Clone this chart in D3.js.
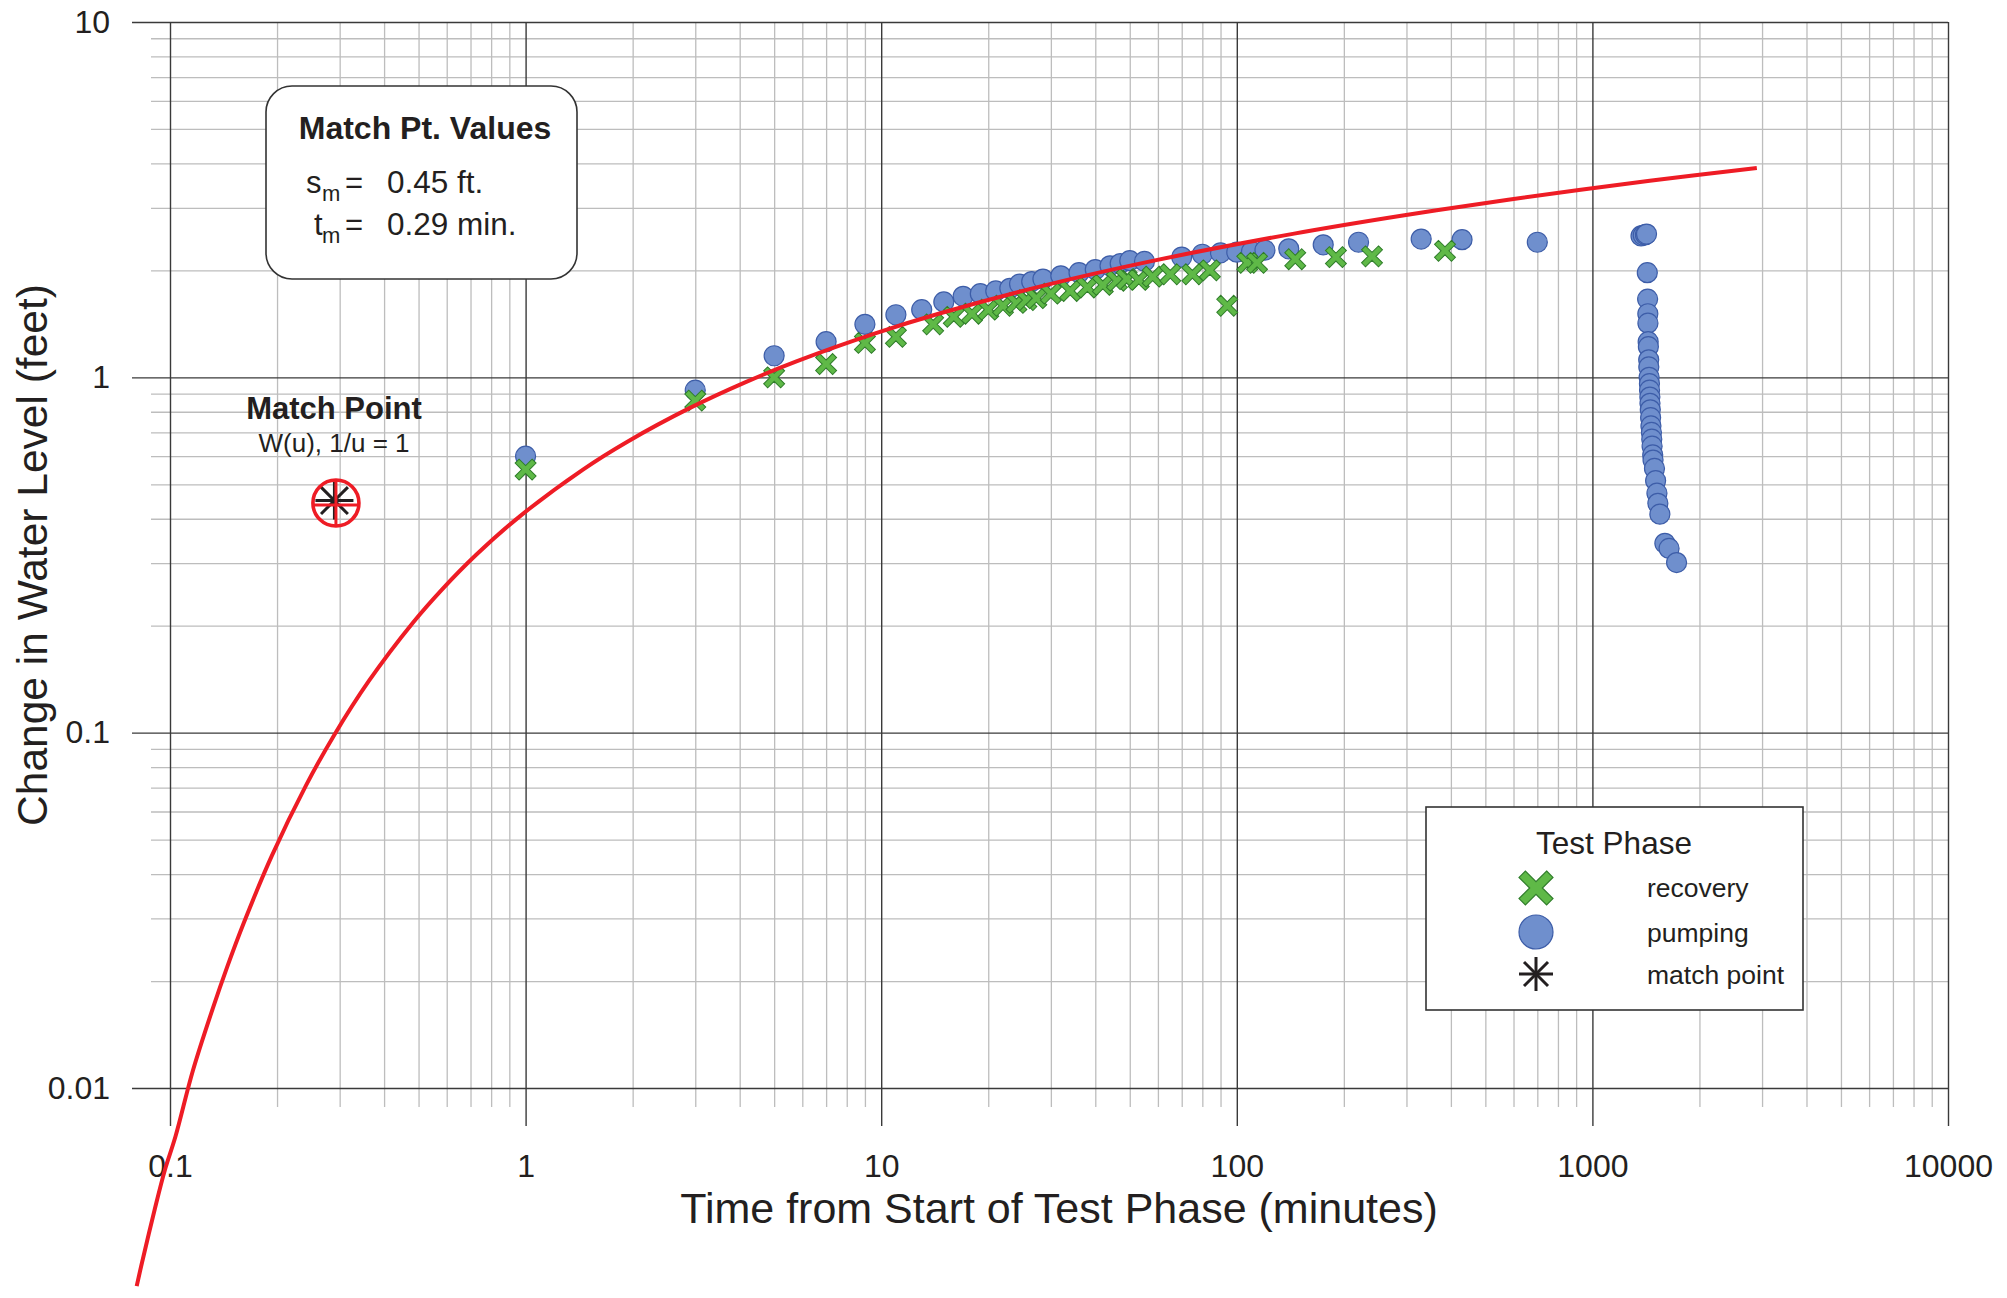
<!DOCTYPE html>
<html>
<head>
<meta charset="utf-8">
<script src="https://d3js.org/d3.v7.min.js"></script>
<style>
  html, body { margin: 0; padding: 0; background: #fff; }
  svg { display: block; font-family: "Liberation Sans", Arial, Helvetica, sans-serif; }
</style>
</head>
<body>
<svg id="chart" width="2007" height="1298"></svg>
<script>
// ---------------- DATA ----------------
const xTickValues = [0.1, 1, 10, 100, 1000, 10000];
const xTickLabels = ["0.1", "1", "10", "100", "1000", "10000"];
const yTickValues = [0.01, 0.1, 1, 10];
const yTickLabels = ["0.01", "0.1", "1", "10"];

// pumping phase (blue circles)
const pumpingTime = [1, 3, 5, 7, 9, 11, 13, 15, 17, 19, 21, 23, 24.5, 26.5, 28.5, 32, 36, 40, 44, 47, 50, 55,
  70, 80, 90, 100, 110, 120, 140, 175, 220, 330, 430, 700,
  1370, 1390, 1410, 1420,
  1427, 1430, 1432, 1433, 1435, 1437, 1440, 1441, 1444, 1447, 1448, 1451, 1452, 1455, 1458, 1461, 1466,
  1469, 1472, 1478, 1481, 1495, 1506, 1519, 1528, 1548, 1599, 1643, 1725];
const pumpingDrawdown = [0.60, 0.92, 1.15, 1.26, 1.41, 1.50, 1.55, 1.63, 1.69, 1.72, 1.75, 1.78, 1.83, 1.86, 1.89, 1.93, 1.97, 2.01, 2.06, 2.09, 2.13, 2.12,
  2.18, 2.22, 2.24, 2.25, 2.26, 2.28, 2.30, 2.36, 2.40, 2.45, 2.44, 2.40,
  2.50, 2.51, 2.52, 2.53,
  1.97, 1.66, 1.51, 1.42, 1.26, 1.22, 1.12, 1.07, 1.00, 0.96, 0.92, 0.88, 0.845, 0.81, 0.77, 0.73, 0.70,
  0.67, 0.64, 0.605, 0.585, 0.554, 0.512, 0.472, 0.442, 0.412, 0.341, 0.330, 0.301];

// recovery phase (green crosses)
const recoveryTime = [1, 3, 5, 7, 9, 11, 14, 16, 18, 20, 22, 24, 25.6, 27.3, 30, 34, 38, 42, 46, 49, 53, 58,
  65, 75, 84, 94, 107, 114, 146, 190, 240, 385];
const recoveryDrawdown = [0.55, 0.86, 1.00, 1.09, 1.25, 1.30, 1.41, 1.48, 1.51, 1.55, 1.59, 1.62, 1.65, 1.67, 1.72, 1.75, 1.79, 1.82, 1.87, 1.89, 1.88, 1.92,
  1.95, 1.95, 2.00, 1.59, 2.10, 2.10, 2.15, 2.18, 2.19, 2.27];

// type curve (red)
const curveTime = [0.0806, 0.0829, 0.0906, 0.0967, 0.1036, 0.116, 0.1318, 0.145, 0.1611, 0.1933, 0.2417, 0.29,
  0.3625, 0.4833, 0.58, 0.725, 0.967, 1.45, 1.933, 2.9, 4.143, 5.8, 9.667, 14.5, 29, 58, 145, 290, 580, 1450, 2900];
const curveDrawdown = [0.00277, 0.00314, 0.00456, 0.00587, 0.0073, 0.0112, 0.0167, 0.0220, 0.0291, 0.0450, 0.0713, 0.0987,
  0.1398, 0.2045, 0.2519, 0.3161, 0.4076, 0.5502, 0.659, 0.8203, 0.968, 1.1106, 1.3316, 1.5096, 1.8171, 2.1267, 2.5377, 2.8492, 3.1609, 3.5731, 3.8849];

const matchPoint = { t: 0.29, s: 0.45 };
const legendLabels = ["recovery", "pumping", "match point"];

// ---------------- SETUP ----------------
const svg = d3.select("#chart");
const pL = 170, pR = 1948, pT = 22, pB = 1088;
const x = d3.scaleLog().domain([0.1, 10000]).range([pL, pR]);
const y = d3.scaleLog().domain([0.01, 10]).range([pB, pT]);

const minorX = [];
[0.1, 1, 10, 100, 1000].forEach(d => { for (let k = 2; k <= 9; k++) minorX.push(+(d * k).toPrecision(3)); });
const minorY = [];
[0.01, 0.1, 1].forEach(d => { for (let k = 2; k <= 9; k++) minorY.push(+(d * k).toPrecision(3)); });

const textColor = "#231f20";

function styleGrid(g, color, width) {
  g.select(".domain").remove();
  g.selectAll(".tick line").attr("stroke", color).attr("stroke-width", width);
  g.selectAll(".tick text").remove();
}

// minor grid
svg.append("g").attr("transform", `translate(0,${pB + 19})`)
  .call(d3.axisBottom(x).tickValues(minorX).tickSize(-(pB + 19 - pT)).tickFormat(""))
  .call(g => styleGrid(g, "#bdbdbd", 1.3));
svg.append("g").attr("transform", `translate(${pL - 19},0)`)
  .call(d3.axisLeft(y).tickValues(minorY).tickSize(-(pR - pL + 19)).tickFormat(""))
  .call(g => styleGrid(g, "#bdbdbd", 1.3));

// major grid
svg.append("g").attr("transform", `translate(0,${pB + 38})`)
  .call(d3.axisBottom(x).tickValues(xTickValues).tickSize(-(pB + 38 - pT)).tickFormat(""))
  .call(g => styleGrid(g, "#3a3a3a", 1.4));
svg.append("g").attr("transform", `translate(${pL - 38},0)`)
  .call(d3.axisLeft(y).tickValues(yTickValues).tickSize(-(pR - pL + 38)).tickFormat(""))
  .call(g => styleGrid(g, "#3a3a3a", 1.4));

// tick labels
const xLab = svg.append("g").attr("transform", `translate(0,${pB})`)
  .call(d3.axisBottom(x).tickValues(xTickValues).tickSize(0).tickPadding(66)
    .tickFormat((d, i) => xTickLabels[i]));
xLab.select(".domain").remove();
xLab.selectAll("text").attr("font-size", 32).attr("fill", textColor);
xLab.attr("font-family", null).attr("font-size", null);

const yLab = svg.append("g").attr("transform", `translate(${pL},0)`)
  .call(d3.axisLeft(y).tickValues(yTickValues).tickSize(0).tickPadding(60)
    .tickFormat((d, i) => yTickLabels[i]));
yLab.select(".domain").remove();
yLab.selectAll("text").attr("font-size", 32).attr("fill", textColor);
yLab.attr("font-family", null).attr("font-size", null);

// axis titles
svg.append("text").attr("x", (pL + pR) / 2).attr("y", 1223)
  .attr("text-anchor", "middle").attr("font-size", 43).attr("fill", textColor)
  .text("Time from Start of Test Phase (minutes)");
svg.append("text").attr("transform", `translate(47,${(pT + pB) / 2}) rotate(-90)`)
  .attr("text-anchor", "middle").attr("font-size", 42.5).attr("fill", textColor)
  .text("Change in Water Level (feet)");

// Match Pt. Values box
svg.append("rect").attr("x", 266).attr("y", 86).attr("width", 311).attr("height", 193)
  .attr("rx", 26).attr("ry", 26).attr("fill", "#fff").attr("stroke", "#333").attr("stroke-width", 1.6);
svg.append("text").attr("x", 425).attr("y", 139).attr("text-anchor", "middle")
  .attr("font-size", 32).attr("font-weight", "bold").attr("fill", textColor).text("Match Pt. Values");
const mv = svg.append("g").attr("fill", textColor);
mv.append("text").attr("x", 306).attr("y", 193).attr("font-size", 31).text("s");
mv.append("text").attr("x", 322).attr("y", 201).attr("font-size", 22).text("m");
mv.append("text").attr("x", 345).attr("y", 193).attr("font-size", 31).text("=");
mv.append("text").attr("x", 387).attr("y", 193).attr("font-size", 31.5).text("0.45 ft.");
mv.append("text").attr("x", 314).attr("y", 235).attr("font-size", 31).text("t");
mv.append("text").attr("x", 322).attr("y", 243).attr("font-size", 22).text("m");
mv.append("text").attr("x", 345).attr("y", 235).attr("font-size", 31).text("=");
mv.append("text").attr("x", 387).attr("y", 235).attr("font-size", 31.5).text("0.29 min.");

// Match Point label
svg.append("text").attr("x", 334).attr("y", 419).attr("text-anchor", "middle")
  .attr("font-size", 31).attr("font-weight", "bold").attr("fill", textColor).text("Match Point");
svg.append("text").attr("x", 334).attr("y", 452).attr("text-anchor", "middle")
  .attr("font-size", 26).attr("fill", textColor).text("W(u), 1/u = 1");

// marker shapes
function xPath(L, w) {
  return `M${-w},${-L}L${w},${-L}L${w},${-w}L${L},${-w}L${L},${w}L${w},${w}L${w},${L}L${-w},${L}L${-w},${w}L${-L},${w}L${-L},${-w}L${-w},${-w}Z`;
}
function asterisk(g, r, sw) {
  [0, 45, 90, 135].forEach(a => {
    const rad = a * Math.PI / 180;
    g.append("line").attr("x1", -r * Math.cos(rad)).attr("y1", -r * Math.sin(rad))
      .attr("x2", r * Math.cos(rad)).attr("y2", r * Math.sin(rad))
      .attr("stroke", "#231f20").attr("stroke-width", sw);
  });
}
const blueFill = "#6f8fcd", blueStroke = "#3d5da8";
const greenFill = "#5fb947", greenStroke = "#2f7d2a";

// pumping circles
const pumping = pumpingTime.map((t, i) => ({ t, s: pumpingDrawdown[i] }));
svg.append("g").selectAll("circle").data(pumping).join("circle")
  .attr("cx", d => x(d.t)).attr("cy", d => y(d.s)).attr("r", 10)
  .attr("fill", blueFill).attr("stroke", blueStroke).attr("stroke-width", 1.2);

// recovery crosses
const recovery = recoveryTime.map((t, i) => ({ t, s: recoveryDrawdown[i] }));
svg.append("g").selectAll("path").data(recovery).join("path")
  .attr("d", xPath(12, 2.8))
  .attr("transform", d => `translate(${x(d.t)},${y(d.s)}) rotate(45)`)
  .attr("fill", greenFill).attr("stroke", greenStroke).attr("stroke-width", 1);

// type curve
const curve = curveTime.map((t, i) => ({ t, s: curveDrawdown[i] }));
svg.append("path").datum(curve)
  .attr("d", d3.line().x(d => x(d.t)).y(d => y(d.s)).curve(d3.curveCatmullRom.alpha(0.5)))
  .attr("fill", "none").attr("stroke", "#ee1c25").attr("stroke-width", 4);

// match point marker
const mp = svg.append("g").attr("transform", `translate(${x(matchPoint.t)},${y(matchPoint.s)})`);
asterisk(mp, 19, 3);
mp.append("circle").attr("cx", 1.5).attr("cy", 2.5).attr("r", 23).attr("fill", "none")
  .attr("stroke", "#ee1c25").attr("stroke-width", 3.6);
mp.append("line").attr("x1", 1.5).attr("x2", 1.5).attr("y1", -20.5).attr("y2", 25.5)
  .attr("stroke", "#ee1c25").attr("stroke-width", 3);
mp.append("line").attr("x1", -21.5).attr("x2", 24.5).attr("y1", 4.5).attr("y2", 4.5)
  .attr("stroke", "#ee1c25").attr("stroke-width", 3);

// legend
const lg = svg.append("g");
lg.append("rect").attr("x", 1426).attr("y", 807).attr("width", 377).attr("height", 203)
  .attr("fill", "#fff").attr("stroke", "#333").attr("stroke-width", 1.6);
lg.append("text").attr("x", 1614).attr("y", 854).attr("text-anchor", "middle")
  .attr("font-size", 31.5).attr("fill", textColor).text("Test Phase");
const symY = [888, 932, 974], labY = [897, 942, 984];
lg.append("path").attr("d", xPath(19.5, 4.5))
  .attr("transform", `translate(1536,${symY[0]}) rotate(45)`)
  .attr("fill", greenFill).attr("stroke", greenStroke).attr("stroke-width", 1.2);
lg.append("circle").attr("cx", 1536).attr("cy", symY[1]).attr("r", 17)
  .attr("fill", blueFill).attr("stroke", blueStroke).attr("stroke-width", 1.2);
asterisk(lg.append("g").attr("transform", `translate(1536,${symY[2]})`), 17, 3);
legendLabels.forEach((l, i) => {
  lg.append("text").attr("x", 1647).attr("y", labY[i]).attr("font-size", 26.5)
    .attr("fill", textColor).text(l);
});
</script>
</body>
</html>
